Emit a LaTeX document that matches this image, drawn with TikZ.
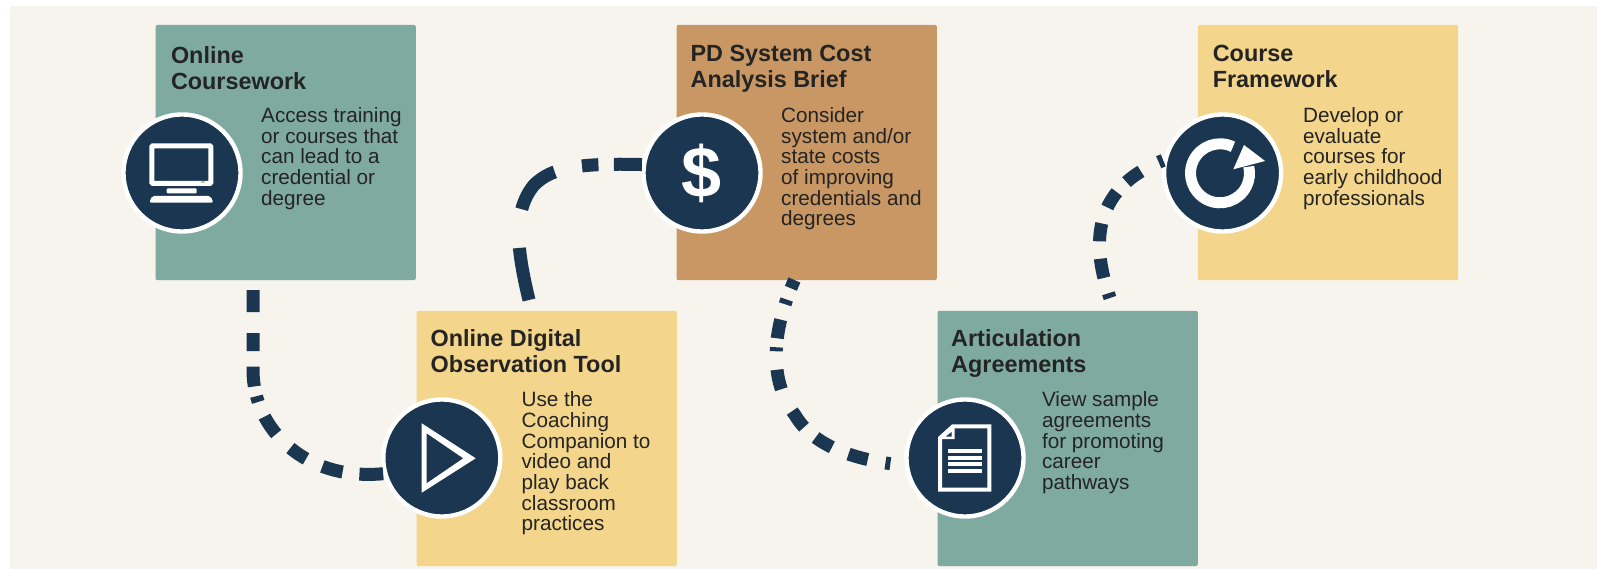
\documentclass[tikz,border=0pt]{standalone}
\usepackage{fontspec}
\setmainfont{Liberation Sans}
\definecolor{pagebg}{HTML}{F7F4ED}
\definecolor{navy}{HTML}{1A3651}
\definecolor{teal}{HTML}{7FAAA0}
\definecolor{straw}{HTML}{F3D58B}
\definecolor{tan}{HTML}{C89763}
\definecolor{ink}{HTML}{242424}
\tikzset{
  card/.style={anchor=north west,minimum width=260.3pt,minimum height=255.3pt,inner sep=0pt,rounded corners=2pt},
  cardtitle/.style={anchor=north west,inner sep=0pt,align=left,text=ink,font=\fontsize{23.4}{26}\selectfont\bfseries},
  cardtext/.style={anchor=north west,inner sep=0pt,align=left,text=ink,font=\fontsize{20.7}{20.7}\selectfont},
  badge/.style={circle,fill=navy,draw=white,line width=4.4pt,minimum size=117pt,inner sep=0pt},
  trail/.style={draw=navy,line width=13pt}
}
\begin{document}
\begin{tikzpicture}[x=1pt,y=-1pt]
  \useasboundingbox (0,0) rectangle (1597,569);
  \fill[white] (0,0) rectangle (1597,569);
  \fill[pagebg] (10,6.5) rectangle (1597,569);
  \node[card,fill=teal] (coursework) at (155.3,24.7) {};
  \node[card,fill=straw] (observation) at (416.3,310.6) {};
  \node[card,fill=tan] (costbrief) at (676.3,24.7) {};
  \node[card,fill=teal] (agreements) at (937.3,310.6) {};
  \node[card,fill=straw] (framework) at (1197.7,24.7) {};
  \node[cardtitle] (title1) at (170.8,46.5) {Online\\Coursework};
  \node[cardtitle] (title2) at (430.4,329.5) {Online Digital\\Observation Tool};
  \node[cardtitle] (title3) at (690.4,45.4) {PD System Cost\\Analysis Brief};
  \node[cardtitle] (title4) at (951,329.5) {Articulation\\Agreements};
  \node[cardtitle] (title5) at (1212.6,45.4) {Course\\Framework};
  \node[cardtext] (text1) at (261,107.3) {Access training\\or courses that\\can lead to a\\credential or\\degree};
  \node[cardtext] (text2) at (521.4,391.4) {Use the\\Coaching\\Companion to\\video and\\play back\\classroom\\practices};
  \node[cardtext] (text3) at (781,107.3) {Consider\\system and/or\\state costs\\of improving\\credentials and\\degrees};
  \node[cardtext] (text4) at (1041.8,391.4) {View sample\\agreements\\for promoting\\career\\pathways};
  \node[cardtext] (text5) at (1302.9,107.3) {Develop or\\evaluate\\courses for\\early childhood\\professionals};
  \node[badge] (screen) at (182,173) {};
  \node[badge] (play) at (441.8,458) {};
  \node[badge] (dollar) at (702,173) {};
  \node[badge] (sheet) at (965,458) {};
  \node[badge] (refresh) at (1222.6,173) {};
  % free ends of the trails
  \coordinate (trail1) at (253,290);
  \coordinate (trail2) at (529,300);
  \coordinate (trail3) at (794.4,280);
  \coordinate (trail4) at (1110,298);
  \begin{scope}[trail]
    \draw[dash pattern=on 22pt off 21pt on 18pt off 15.5pt on 20pt off 10pt on 6pt off 16pt on 21pt off 20pt on 19pt off 18pt on 21pt off 17pt on 30pt off 50pt]
      (trail1) -- (253,370) .. controls (253,430) and (306,481) .. (play.195);
    \draw[dash pattern=on 53pt off 39pt on 52pt off 28pt on 16.5pt off 15.5pt on 40pt off 50pt]
      (trail2) .. controls (517,250) and (512,212) .. (534,185) .. controls (552,167) and (580,163) .. (dollar.172);
    \draw[dash pattern=on 9pt off 12pt on 5pt off 16pt on 19pt off 9pt on 4pt off 18.5pt on 20pt off 24.5pt on 20pt off 15.5pt on 19pt off 18pt on 20pt off 18pt on 5pt off 90pt]
      (trail3) .. controls (768,340) and (772,385) .. (795,415) .. controls (812,444) and (850,460) .. (sheet.187.5);
    \draw[dash pattern=on 5pt off 16pt on 19.5pt off 17.5pt on 18pt off 17pt on 18pt off 14pt on 18pt off 20pt on 5pt off 90pt]
      (trail4) .. controls (1093,250) and (1088,190) .. (refresh.168);
  \end{scope}
  % monitor
  \draw[white,line width=5pt,rounded corners=1pt] (151.8,145.8) rectangle (210.8,183.5);
  \fill[white,rounded corners=1pt] (166.7,188.3) rectangle (196.7,193.3);
  \fill[white,rounded corners=2pt] (149.3,202.7) -- (152,196) -- (210.6,196) -- (213.3,202.7) -- cycle;
  \fill[straw!70!teal] (201,181) rectangle (204.5,183);
  % play triangle
  \fill[white,even odd rule] (421.7,423.3) -- (475.7,458.3) -- (421.7,492.7) -- cycle
    (426.7,433.3) -- (463.3,458.3) -- (426.7,483.3) -- cycle;
  % dollar sign
  \node[inner sep=0pt,text=white,font=\fontsize{72}{72}\selectfont\bfseries] (dollarsign) at (dollar.center) {\$};
  % sheet of paper
  \draw[white,line width=4pt,miter limit=10] (953,426.3) -- (989.3,426.3) -- (989.3,489.7) -- (940,489.7) -- (940,438) -- cycle;
  \fill[white] (954.5,425) -- (954.5,439) -- (939,439) -- cycle;
  \fill[navy] (951.5,432) -- (951.5,436.5) -- (946,436.5) -- cycle;
  \foreach \rowy in {451.3,458,464.2,470.5}
    \draw[white,line width=4pt] (948,\rowy) -- (982.3,\rowy);
  % circular arrow
  \draw[white,line width=11pt] (1220,173.3) ++(64:29.5 and -29.5) arc[start angle=-64,end angle=-373,radius=29.5];
  \fill[white] (1233.3,169.3) -- (1244,145) -- (1265,161) -- cycle;
\end{tikzpicture}
\end{document}
